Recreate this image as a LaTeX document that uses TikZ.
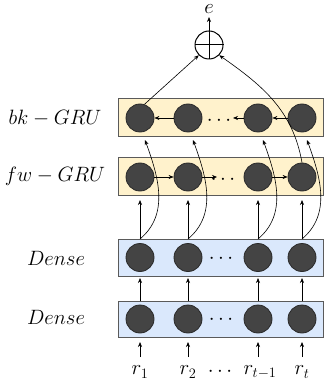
\documentclass[tikz,border=0pt]{standalone}
\usetikzlibrary{arrows.meta}
\definecolor{yel}{HTML}{FFF2CC}
\definecolor{blu}{HTML}{DAE8FC}
\definecolor{bord}{HTML}{5A5A5A}
\definecolor{cfill}{HTML}{444444}
\definecolor{cbord}{HTML}{2A2A2A}
\begin{document}
\begin{tikzpicture}[x=1pt,y=-1pt,
  every node/.style={font=\fontsize{20}{24}\selectfont},
  ybox/.style={draw=bord,fill=yel,line width=1pt},
  bbox/.style={draw=bord,fill=blu,line width=1pt},
  cell/.style={circle,draw=cbord,fill=cfill,minimum size=28pt,inner sep=0pt,line width=0.8pt},
  arr/.style={-{Stealth[length=5pt,width=4pt]},line width=0.6pt,black},
  lab/.style={inner sep=0pt}]
\useasboundingbox (0,0) rectangle (324,387);
% boxes
\draw[ybox] (118,99) rectangle (323,137);
\draw[ybox] (118,158) rectangle (323,195);
\draw[bbox] (118,239) rectangle (323,276);
\draw[bbox] (118,301) rectangle (323,337);
% labels
\node[lab] (lbk) at (55,118) {$bk-GRU$};
\node[lab] (lfw) at (55,176) {$fw-GRU$};
\node[lab] (ld2) at (56,258) {$Dense$};
\node[lab] (ld1) at (56,317) {$Dense$};
% cells
\foreach \i/\x in {1/140,2/188,3/258,4/302}{
  \node[cell] (bk\i) at (\x,118) {};
  \node[cell] (fw\i) at (\x,177) {};
  \node[cell] (dt\i) at (\x,257.5) {};
  \node[cell] (db\i) at (\x,319) {};
  \coordinate (dtop\i) at (\x,239);
  \coordinate (fwin\i) at (\x,200);
  \coordinate (dbtop\i) at (\x,301);
  \coordinate (dtin\i) at (\x,278);
  \coordinate (rin\i) at (\x,342);
  \coordinate (rst\i) at (\x,357);
  \coordinate (bkin\i) at (\x+5,140);
}
% dots
\node[lab] (bkd) at (219,121) {$\cdots$};
\node[lab] (fwd) at (223,180) {$\cdots$};
\node[lab] (dtd) at (221,259) {$\cdots$};
\node[lab] (dbd) at (221,320) {$\cdots$};
% inputs
\node[lab] (r1) at (140,372) {$r_1$};
\node[lab] (r2) at (188,372) {$r_2$};
\node[lab] (rd) at (220,372) {$\cdots$};
\node[lab] (r3) at (260,372) {$r_{t-1}$};
\node[lab] (r4) at (302,372) {$r_t$};
% oplus
\node[circle,draw=black,line width=1pt,minimum size=28pt,inner sep=0pt] (op) at (209,45) {};
\draw[line width=1pt] (op.north) -- (op.south) (op.west) -- (op.east);
\node[lab] (e) at (209,9.5) {$e$};
\coordinate (etip) at (209,17);
\draw[arr] (op.north) -- (etip);
% vertical arrows
\foreach \i in {1,2,3,4}{
  \draw[arr] (rst\i) -- (rin\i);
  \draw[arr] (dbtop\i) -- (dtin\i);
  \draw[arr] (dtop\i) -- (fwin\i);
  \draw[arr] (dtop\i) to[out=40,in=-70] (bkin\i);
}
% forward
\coordinate (fwdin) at (217,177);
\draw[arr] (fw1) -- (fw2);
\draw[arr] (fw2) -- (fwdin);
\draw[arr] (fw3) -- (fw4);
% backward
\coordinate (bkdin) at (233,118);
\draw[arr] (bk4) -- (bk3);
\draw[arr] (bk3) -- (bkdin);
\draw[arr] (bk2) -- (bk1);
% to oplus
\draw[arr] (bk1.72) -- (op.225);
\draw[arr] (fw4.north) to[out=100,in=-35] (op.-45);
\end{tikzpicture}
\end{document}
